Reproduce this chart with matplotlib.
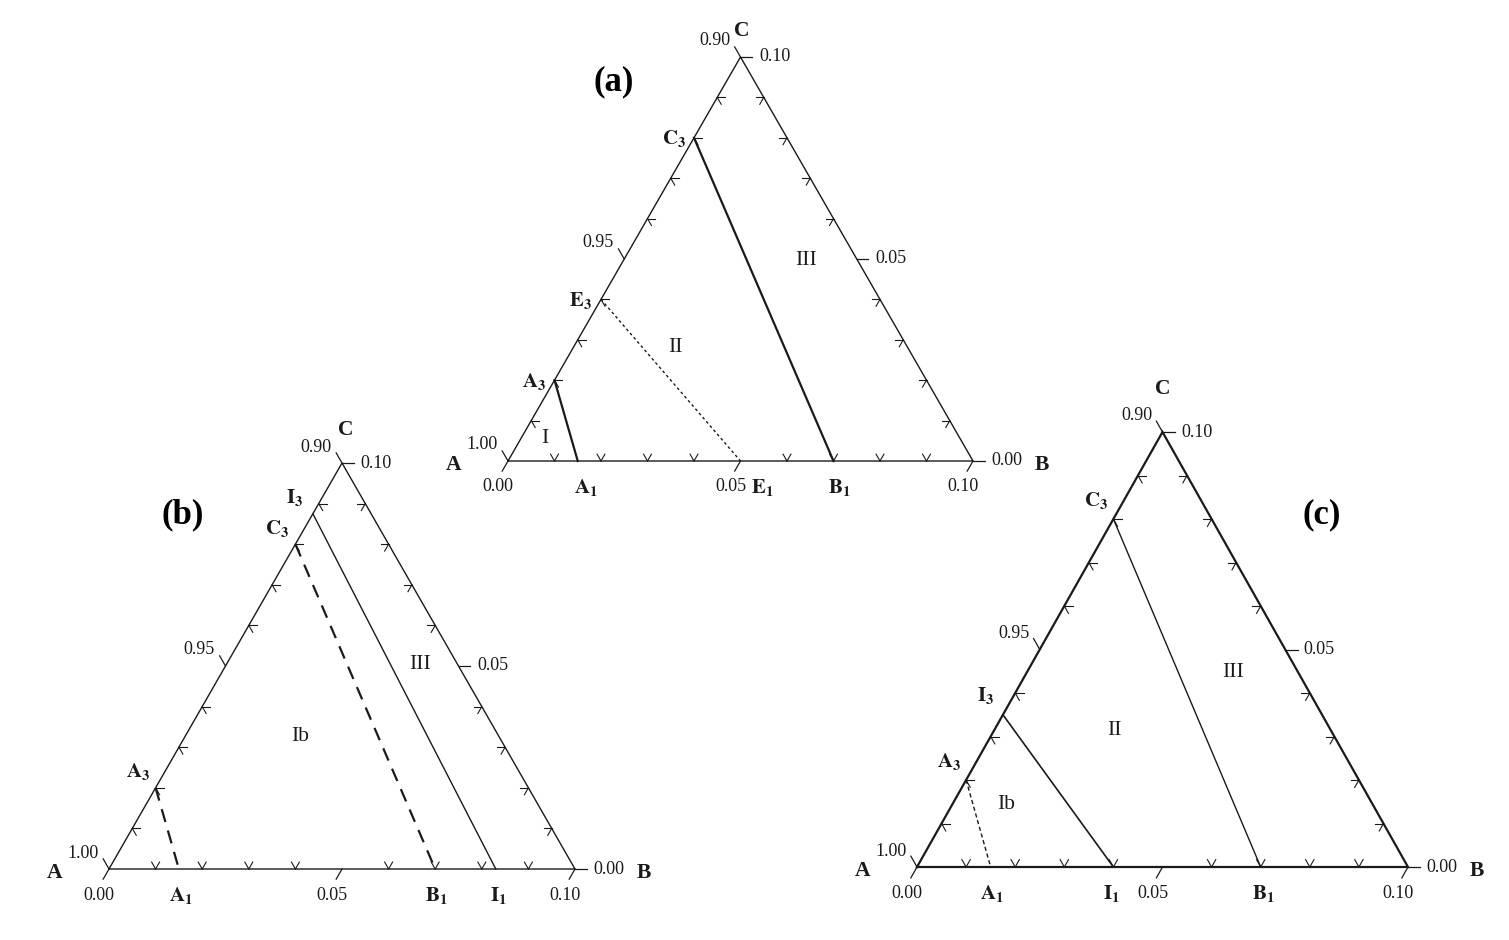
import matplotlib.pyplot as plt
import numpy as np

plt.rcParams['font.family'] = ['Liberation Serif', 'DejaVu Serif']
plt.rcParams['mathtext.fontset'] = 'stix'

W, H = 1509, 940
R3 = np.sqrt(3) / 2
SPAN = 0.10  # each triangle shows only the A-rich corner: A from 0.90 to 1.00

# composition points: (B fraction, C fraction)
# tie lines go from a point on the A-C edge (C value) to one on the A-B edge (B value)
a_top = [0.020, 0.040, 0.080]
a_bot = [0.015, 0.050, 0.070]
a_top_names = ['A_3', 'E_3', 'C_3']
a_bot_names = ['A_1', 'E_1', 'B_1']
a_regions = ['I', 'II', 'III']
a_reg_b = [0.0052, 0.0219, 0.0392]
a_reg_c = [0.0055, 0.0281, 0.0497]

b_top = [0.020, 0.080, 0.0875]
b_bot = [0.015, 0.070, 0.083]
b_top_names = ['A_3', 'C_3', 'I_3']
b_bot_names = ['A_1', 'B_1', 'I_1']
b_regions = ['Ib', 'III']
b_reg_b = [0.0246, 0.0416]
b_reg_c = [0.0327, 0.0503]

c_top = [0.020, 0.035, 0.080]
c_bot = [0.015, 0.040, 0.070]
c_top_names = ['A_3', 'I_3', 'C_3']
c_bot_names = ['A_1', 'I_1', 'B_1']
c_regions = ['Ib', 'II', 'III']
c_reg_b = [0.0110, 0.0245, 0.0420]
c_reg_c = [0.0143, 0.0313, 0.0448]

# axis tick labels
tick_vals = [0.0, 0.05, 0.10]
left_labels = ['1.00', '0.95', '0.90']     # A fraction along A-C edge
bottom_labels = ['0.00', '0.05', '0.10']   # B fraction along A-B edge
right_labels = ['0.00', '0.05', '0.10']    # C fraction along B-C edge

INK = '#1a1a1a'


def tern(b, c):
    b = np.asarray(b, float)
    c = np.asarray(c, float)
    return b + c / 2, c * R3


def lbl(ax, s, xy, dx, dy, **kw):
    ax.annotate(s, xy=xy, xytext=(dx, dy), textcoords='offset pixels',
                ha='center', va='center', color=INK, annotation_clip=False, **kw)


def panel(px, tops, bots, top_names, bot_names, styles, regions, reg_b, reg_c,
          edge_lw, c_off, top_off, bot_dx):
    x0, x1, ybase, ytop = px
    ax = fig.add_axes([x0 / W, (H - ybase) / H, (x1 - x0) / W, (ybase - ytop) / H])
    ax.set_xlim(0, SPAN)
    ax.set_ylim(0, SPAN * R3)
    ax.axis('off')

    # outline
    ex, ey = tern([0, SPAN, 0, 0], [0, 0, SPAN, 0])
    ax.plot(ex, ey, color=INK, lw=edge_lw, clip_on=False, solid_joinstyle='miter')

    # minor chevrons every 0.01, pointing along the other two grid directions
    d = 0.0017
    for k in range(1, 10):
        if k == 5:
            continue
        v = k / 100
        # bottom edge
        for (bb, cc) in [(v, d), (v - d, d)]:
            xs, ys = tern([v, bb], [0, cc])
            ax.plot(xs, ys, color=INK, lw=0.8, clip_on=False)
        # left edge
        for (bb, cc) in [(d, v), (d, v - d)]:
            xs, ys = tern([0, bb], [v, cc])
            ax.plot(xs, ys, color=INK, lw=0.8, clip_on=False)
        # right edge
        br = SPAN - v
        for (bb, cc) in [(br - d, v), (br, v - d)]:
            xs, ys = tern([br, bb], [v, cc])
            ax.plot(xs, ys, color=INK, lw=0.8, clip_on=False)

    # major ticks pointing outward, with labels
    D = 0.0025
    for v, ll, bl, rl in zip(tick_vals, left_labels, bottom_labels, right_labels):
        xs, ys = tern([v, v], [0, -D])
        ax.plot(xs, ys, color=INK, lw=0.9, clip_on=False)
        lbl(ax, bl, tern(v, 0), -10, -26, fontsize=13)
        xs, ys = tern([0, -D], [v, v + D])
        ax.plot(xs, ys, color=INK, lw=0.9, clip_on=False)
        lbl(ax, ll, tern(0, v), -26, 16, fontsize=13)
        xs, ys = tern([SPAN - v, SPAN - v + D], [v, v])
        ax.plot(xs, ys, color=INK, lw=0.9, clip_on=False)
        lbl(ax, rl, tern(SPAN - v, v), 34, 0, fontsize=13)

    # corner names
    lbl(ax, 'A', tern(0, 0), -54, -4, fontsize=15.5, fontweight='bold')
    lbl(ax, 'B', tern(SPAN, 0), 69, -4, fontsize=15.5, fontweight='bold')
    lbl(ax, 'C', tern(0, SPAN), c_off[0], c_off[1], fontsize=15.5, fontweight='bold')

    # tie lines
    for ct, bb, tn, bn, st, dx in zip(tops, bots, top_names, bot_names, styles, bot_dx):
        xs, ys = tern([0, bb], [ct, 0])
        ax.plot(xs, ys, color=INK, clip_on=False, **st)
        lbl(ax, r'$\mathbf{%s}$' % tn, tern(0, ct), top_off[0], top_off[1], fontsize=15)
        lbl(ax, r'$\mathbf{%s}$' % bn, tern(bb, 0), dx, -27, fontsize=15)

    for name, rb, rc in zip(regions, reg_b, reg_c):
        ax.text(*tern(rb, rc), name, ha='center', va='center', fontsize=15.5, color=INK)
    return ax


fig = plt.figure(figsize=(W / 100, H / 100), dpi=100)

panel((508, 973, 461, 57), a_top, a_bot, a_top_names, a_bot_names,
      [dict(lw=1.6), dict(lw=1.0, ls=(0, (2, 2))), dict(lw=1.6)],
      a_regions, a_reg_b, a_reg_c, 1.0, (1, 26), (-20, -1), [8, 22, 6])

panel((109, 575, 869, 463), b_top, b_bot, b_top_names, b_bot_names,
      [dict(lw=1.6, ls=(0, (6, 4))), dict(lw=1.6, ls=(0, (6, 4))), dict(lw=1.0)],
      b_regions, b_reg_b, b_reg_c, 1.0, (4, 33), (-18, 16), [2, 1, 3])

panel((917, 1408, 867, 432), c_top, c_bot, c_top_names, c_bot_names,
      [dict(lw=1.0, ls=(0, (3, 2))), dict(lw=1.2), dict(lw=1.0)],
      c_regions, c_reg_b, c_reg_c, 1.6, (0, 43), (-17, 19), [1, -2, 3])

fig.text(614 / W, 1 - 82 / H, '(a)', ha='center', va='center', fontsize=25, fontweight='bold')
fig.text(183 / W, 1 - 515 / H, '(b)', ha='center', va='center', fontsize=25, fontweight='bold')
fig.text(1322 / W, 1 - 515 / H, '(c)', ha='center', va='center', fontsize=25, fontweight='bold')

fig.savefig('out.png', dpi=100)
